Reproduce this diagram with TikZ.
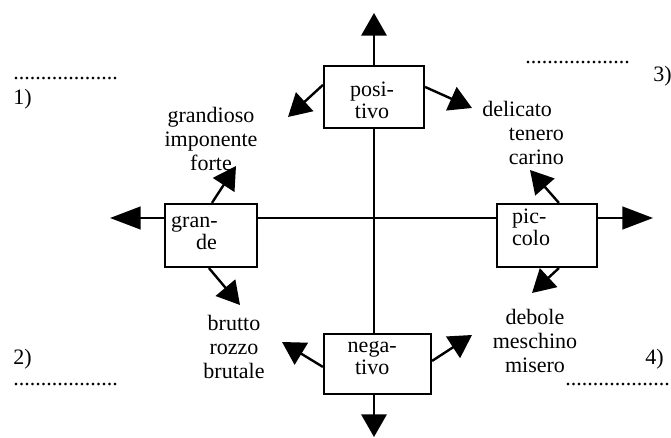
\documentclass[tikz,border=0pt]{standalone}
\usepackage{fontspec}
\setmainfont{Liberation Serif}
\usetikzlibrary{arrows.meta,calc}
\begin{document}
\begin{tikzpicture}[x=0.75pt,y=-0.75pt,
  box/.style={draw,line width=1.6pt,fill=white,inner sep=0pt},
  arr/.style={line width=1.8pt,-{Triangle[length=17pt,width=19pt]}},
  harr/.style={line width=1.8pt,-{Triangle[length=23pt,width=17pt]}},
  ln/.style={line width=1.8pt},
  txt/.style={font=\fontsize{16.5}{18}\selectfont,inner sep=0pt,align=center},
  btxt/.style={font=\fontsize{16.5}{16.5}\selectfont,inner sep=0pt},
]
\useasboundingbox (0,0) rectangle (671,438);

% boxes
\node[box,minimum width=75pt,minimum height=46.5pt,
  label={[btxt,align=center,anchor=center,xshift=-1.5pt,yshift=-2.5pt]center:posi-\\tivo}] (pos) at (374,97) {};
\node[box,minimum width=69pt,minimum height=47.25pt,
  label={[btxt,align=left,anchor=west,xshift=5.25pt,yshift=2pt]west:gran-\\\hspace*{18.75pt}de}] (gr) at (211,235.5) {};
\node[box,minimum width=75pt,minimum height=47.25pt,
  label={[btxt,align=left,anchor=west,xshift=12pt,yshift=6pt]west:pic-\\colo}] (pic) at (547,235.5) {};
\node[box,minimum width=80.25pt,minimum height=45pt,
  label={[btxt,align=center,anchor=center,xshift=-4pt,yshift=4.5pt]center:nega-\\tivo}] (neg) at (377.5,364) {};

% axis coordinates
\coordinate (c) at (374,218);
\coordinate (tT) at (374,13);
\coordinate (tB) at (374,437);
\coordinate (tL) at (110,218);
\coordinate (tR) at (653,218);

% axes
\draw[arr] (c |- pos.north) -- (tT);
\draw[ln] (c |- pos.south) -- (c |- neg.north);
\draw[arr] (c |- neg.south) -- (tB);
\draw[ln] (gr.east |- c) -- (pic.west |- c);
\draw[harr] (gr.west |- c) -- (tL);
\draw[harr] (pic.east |- c) -- (tR);

% diagonal arrow tips
\coordinate (a1) at (288,117);
\coordinate (a2) at (472,108);
\coordinate (a3) at (236,166);
\coordinate (a4) at (240,305);
\coordinate (a5) at (530,170);
\coordinate (a6) at (532,293);
\coordinate (a7) at (282,342);
\coordinate (a8) at (472,335);

\draw[arr] ($(pos.north west)+(0,20)$) -- (a1);
\draw[arr] ($(pos.north east)+(0,22)$) -- (a2);
\draw[arr] ($(gr.north west)+(48,0)$) -- (a3);
\draw[arr] ($(gr.south west)+(45,0)$) -- (a4);
\draw[arr] ($(pic.north west)+(63,0)$) -- (a5);
\draw[arr] ($(pic.south west)+(63,0)$) -- (a6);
\draw[arr] ($(neg.north west)+(0,34)$) -- (a7);
\draw[arr] ($(neg.north east)+(0,28)$) -- (a8);

% word lists
\node[txt] (w1) at (211,139) {grandioso\\imponente\\forte};
\node[txt,align=left,anchor=west] (w2) at (482,133) {delicato\\\hspace*{20pt}tenero\\\hspace*{20pt}carino};
\node[txt] (w3) at (234,347) {brutto\\rozzo\\brutale};
\node[txt] (w4) at (535,341) {debole\\meschino\\misero};

% quadrant labels
\node[txt,anchor=base west] (d1) at (13,80) {...................};
\node[txt,anchor=base west] (n1) at (13,105) {1)};
\node[txt,anchor=base west] (d3) at (525,64) {...................};
\node[txt,anchor=base west] (n3) at (653,82) {3)};
\node[txt,anchor=base west] (n2) at (13,364) {2)};
\node[txt,anchor=base west] (d2) at (13,385) {...................};
\node[txt,anchor=base west] (n4) at (645,364) {4)};
\node[txt,anchor=base west] (d4) at (565,385) {...................};
\end{tikzpicture}
\end{document}
